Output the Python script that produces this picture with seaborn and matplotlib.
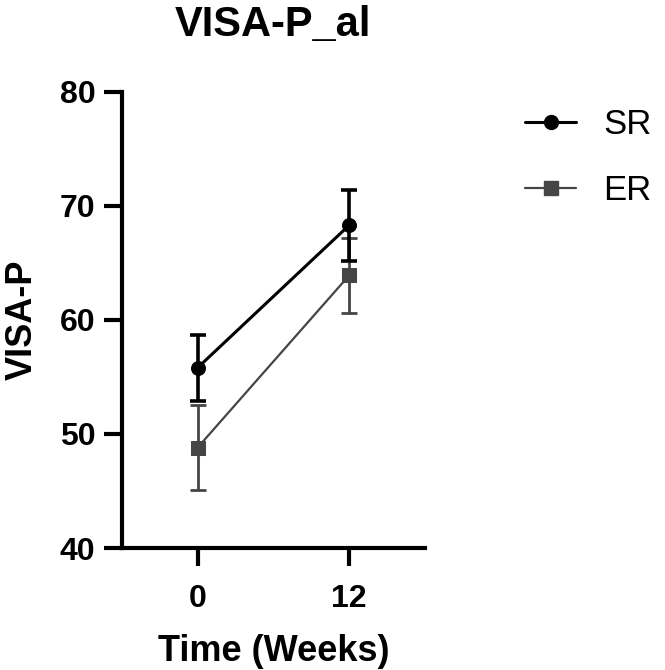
"""
VISA-P over time for SR and ER groups (mean +/- SE).
"""

import matplotlib
matplotlib.use('Agg')
import matplotlib.pyplot as plt
from matplotlib.lines import Line2D
import pandas as pd
import seaborn as sns

# Data
weeks = [0, 12]
groups = ['SR', 'ER']
sr_mean = [55.8, 68.3]
sr_err = [2.9, 3.1]
er_mean = [48.8, 63.9]
er_err = [3.7, 3.3]

df = pd.DataFrame({
    'week': weeks * 2,
    'group': ['SR'] * 2 + ['ER'] * 2,
    'mean': sr_mean + er_mean,
    'err': sr_err + er_err,
})

sns.set_style('ticks')
plt.rcParams['font.family'] = ['Liberation Sans', 'DejaVu Sans']
plt.rcParams['text.color'] = 'black'
plt.rcParams['axes.labelcolor'] = 'black'
plt.rcParams['axes.edgecolor'] = 'black'
plt.rcParams['xtick.color'] = 'black'
plt.rcParams['ytick.color'] = 'black'

styles = {
    'SR': dict(color='black', marker='o', ms=10, lw=2.2),
    'ER': dict(color='#454545', marker='s', ms=9.5, lw=1.6),
}

fig = plt.figure(figsize=(6.65, 6.7), dpi=100)
ax = fig.add_axes([0.183, 0.182, 0.456, 0.681])

for g in ['ER', 'SR']:
    sub = df[df['group'] == g]
    st = styles[g]
    ax.errorbar(sub['week'], sub['mean'], yerr=sub['err'], fmt='none',
                ecolor=st['color'], elinewidth=st['lw'] + 0.4, capsize=6,
                capthick=st['lw'] + 0.4, zorder=2)
    sns.lineplot(data=sub, x='week', y='mean', ax=ax, color=st['color'],
                 marker=st['marker'], markersize=st['ms'], linewidth=st['lw'],
                 markeredgecolor=st['color'], legend=False, zorder=3)

ax.set_xlim(-6, 18)
ax.set_ylim(40, 80)
ax.set_xticks(weeks)
ax.set_yticks([40, 50, 60, 70, 80])

for s in ['top', 'right']:
    ax.spines[s].set_visible(False)
for s in ['left', 'bottom']:
    ax.spines[s].set_linewidth(3)
ax.tick_params(axis='both', width=3, length=13, labelsize=23)
ax.tick_params(axis='y', pad=6)
ax.tick_params(axis='x', pad=13)
for lab in ax.get_xticklabels() + ax.get_yticklabels():
    lab.set_fontweight('bold')

ax.set_xlabel('Time (Weeks)', fontsize=26, fontweight='bold', labelpad=14)
ax.set_ylabel('VISA-P', fontsize=26, fontweight='bold', labelpad=14)
ax.set_title('VISA-P_al', fontsize=30, fontweight='bold', pad=40)

handles = [Line2D([], [], color=styles[g]['color'], marker=styles[g]['marker'],
                  markersize=styles[g]['ms'], linewidth=styles[g]['lw'])
           for g in groups]
ax.legend(handles, groups, loc='upper left', bbox_to_anchor=(0.79, 0.839),
          bbox_transform=fig.transFigure, frameon=False, fontsize=25,
          handlelength=1.45, handletextpad=0.8, labelspacing=0.95,
          borderpad=0, borderaxespad=0)

fig.savefig('out.png', dpi=100)
